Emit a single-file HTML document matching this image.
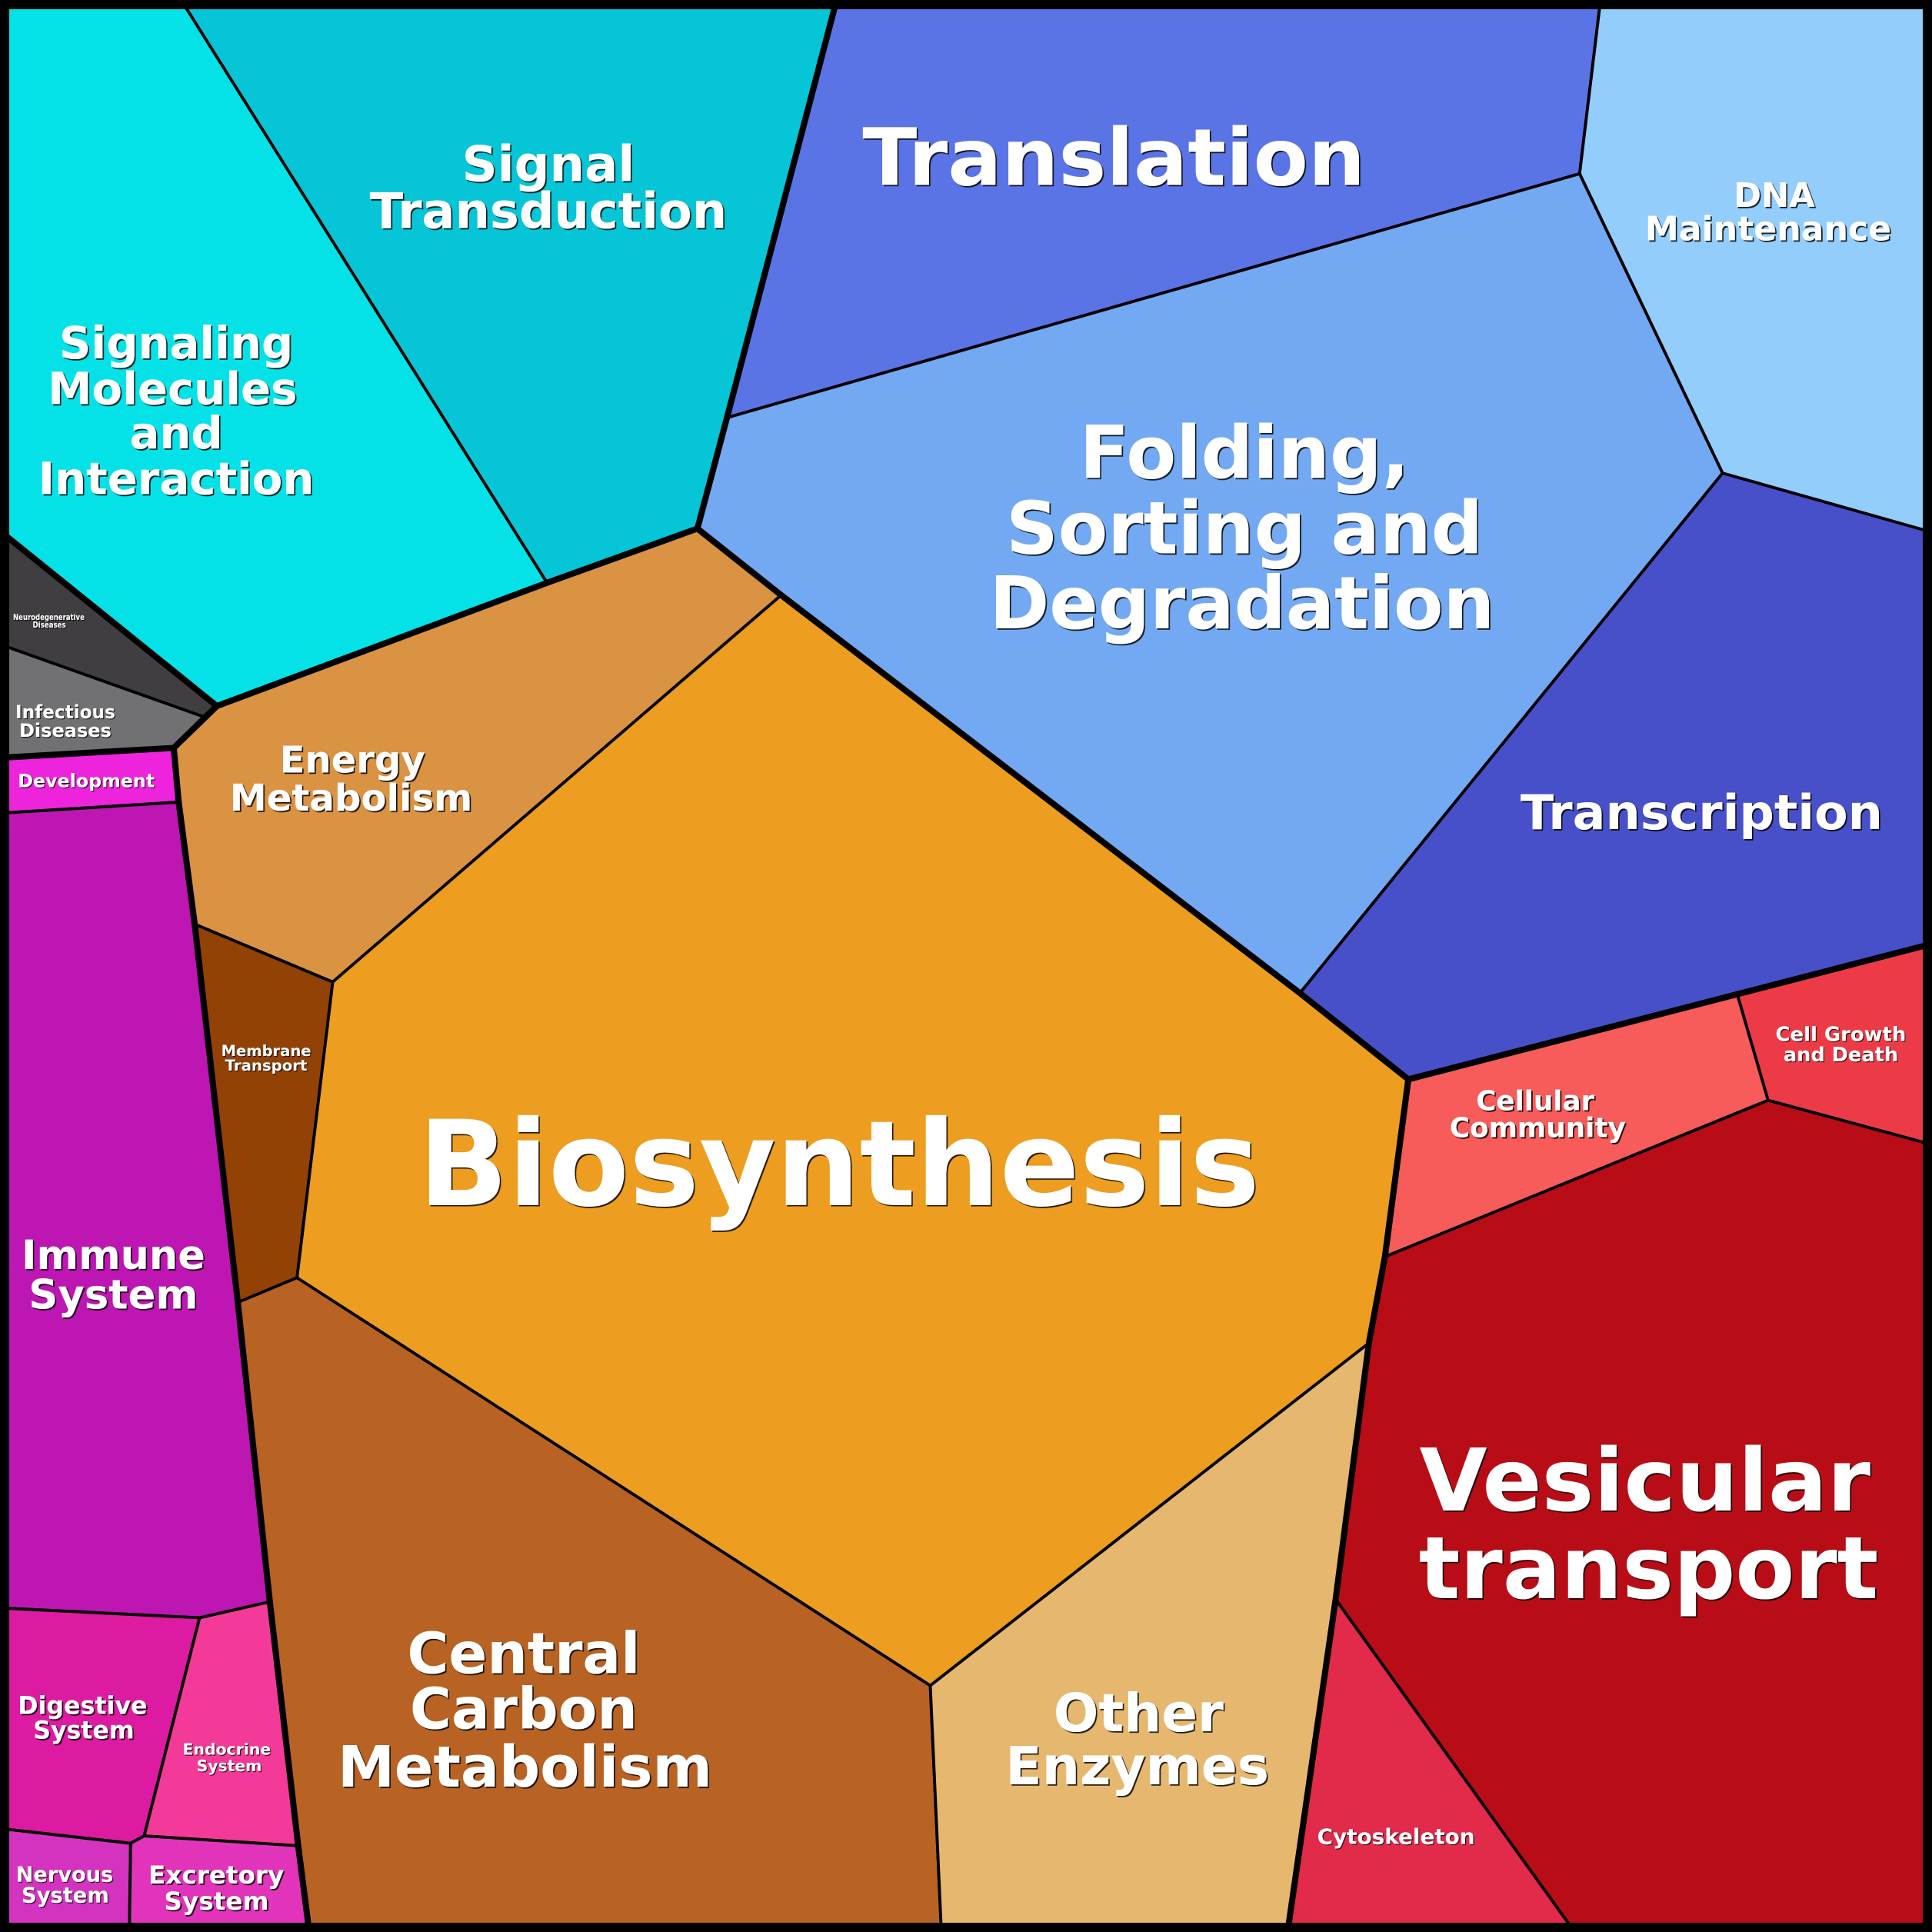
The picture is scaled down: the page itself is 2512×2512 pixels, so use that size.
<!DOCTYPE html>
<html>
<head>
<meta charset="utf-8">
<style>
html,body{margin:0;padding:0;background:#000;}
svg{display:block;}
text{font-family:"DejaVu Sans","Liberation Sans",sans-serif;font-weight:bold;fill:#fff;text-anchor:middle;}
</style>
</head>
<body>
<svg xmlns="http://www.w3.org/2000/svg" width="2512" height="2512" viewBox="0 0 1568 1568">
<defs>
<filter id="sh" x="-10%" y="-10%" width="120%" height="130%">
<feDropShadow dx="1.1" dy="1.1" stdDeviation="0.2" flood-color="#000" flood-opacity="0.85"/>
</filter>
<filter id="shs" x="-10%" y="-10%" width="120%" height="130%">
<feDropShadow dx="0.7" dy="0.7" stdDeviation="0.15" flood-color="#000" flood-opacity="0.85"/>
</filter>
</defs>

<g stroke="#000" stroke-width="2.4" stroke-linejoin="round">
<!-- Environmental -->
<polygon fill="#04E2E8" points="0,0 147,0 444,473 176,573 0,431"/>
<polygon fill="#05C5D6" points="147,0 679,0 590,339 566,429 444,473"/>
<!-- Genetic -->
<polygon fill="#5A74E6" points="679,0 1299,0 1282,141 590,339"/>
<polygon fill="#93CDFB" points="1299,0 1568,0 1568,432 1398,384 1282,141"/>
<polygon fill="#72A9F2" points="590,339 1282,141 1398,384 1055,806 634,483 566,429"/>
<polygon fill="#4750C8" points="1398,384 1568,432 1568,766 1143,876 1055,806"/>
<!-- Metabolism -->
<polygon fill="#DA9243" points="566,429 634,483 270,797 158,750 145,651 141,607 176,573 444,473"/>
<polygon fill="#ED9D1F" points="634,483 1055,806 1143,876 1124,1020 1111,1090 755,1368 241,1037 270,797"/>
<polygon fill="#924205" points="158,750 270,797 241,1037 193,1057"/>
<polygon fill="#B86223" points="193,1057 241,1037 755,1368 764,1568 251,1568 242,1498 219,1300"/>
<polygon fill="#E6B76F" points="755,1368 1111,1090 1084,1298 1045,1568 764,1568"/>
<!-- Human diseases -->
<polygon fill="#403E40" points="0,431 176,573 166,582 0,523"/>
<polygon fill="#717173" points="0,523 166,582 141,607 0,615"/>
<!-- Organismal -->
<polygon fill="#EE24DC" points="0,615 141,607 145,651 0,660"/>
<polygon fill="#BD16B2" points="0,660 145,651 158,750 193,1057 219,1300 162,1313 0,1305"/>
<polygon fill="#DD1AA2" points="0,1305 162,1313 117,1490 106,1496 0,1484"/>
<polygon fill="#F43A98" points="162,1313 219,1300 242,1498 117,1490"/>
<polygon fill="#D333BE" points="0,1484 106,1496 105,1568 0,1568"/>
<polygon fill="#E134BB" points="106,1496 117,1490 242,1498 251,1568 105,1568"/>
<!-- Cellular processes -->
<polygon fill="#F75B5A" points="1143,876 1410,807 1435,893 1124,1020"/>
<polygon fill="#EC3B47" points="1410,807 1568,766 1568,929 1435,893"/>
<polygon fill="#B80D17" points="1124,1020 1435,893 1568,929 1568,1568 1278,1568 1084,1298 1111,1090"/>
<polygon fill="#E22A4A" points="1084,1298 1278,1568 1045,1568"/>
</g>

<!-- thick group boundaries -->
<g stroke="#000" stroke-width="5" fill="none" stroke-linejoin="round" stroke-linecap="round">
<polyline points="679,0 590,339 566,429"/>
<polyline points="566,429 444,473 176,573 0,431"/>
<polyline points="176,573 141,607 0,615"/>
<polyline points="141,607 145,651 158,750 193,1057 219,1300 242,1498 251,1568"/>
<polyline points="566,429 634,483 1055,806 1143,876 1568,766"/>
<polyline points="1143,876 1124,1020 1111,1090 1084,1298 1045,1568"/>
</g>

<!-- frame -->
<rect x="3.75" y="3.75" width="1560.5" height="1560.5" fill="none" stroke="#000" stroke-width="7.5"/>

<!-- labels -->
<g filter="url(#sh)">
<text x="445" y="147" font-size="40">Signal</text>
<text x="445" y="185" font-size="40" textLength="290" lengthAdjust="spacingAndGlyphs">Transduction</text>

<text x="143" y="291" font-size="36">Signaling</text>
<text x="140" y="328" font-size="36">Molecules</text>
<text x="143" y="364" font-size="36">and</text>
<text x="143" y="401" font-size="36" textLength="224" lengthAdjust="spacingAndGlyphs">Interaction</text>

<text x="904" y="150" font-size="64" textLength="408" lengthAdjust="spacingAndGlyphs">Translation</text>

<text x="1440" y="168" font-size="27">DNA</text>
<text x="1435" y="195" font-size="27" textLength="200" lengthAdjust="spacingAndGlyphs">Maintenance</text>

<text x="1010" y="388" font-size="59">Folding,</text>
<text x="1010" y="449" font-size="59" textLength="387" lengthAdjust="spacingAndGlyphs">Sorting and</text>
<text x="1008" y="510" font-size="59" textLength="410" lengthAdjust="spacingAndGlyphs">Degradation</text>

<text x="1381" y="673" font-size="39" textLength="294" lengthAdjust="spacingAndGlyphs">Transcription</text>

<text x="286" y="627" font-size="30">Energy</text>
<text x="285" y="658" font-size="30" textLength="197" lengthAdjust="spacingAndGlyphs">Metabolism</text>

<text x="681" y="978" font-size="96" textLength="683" lengthAdjust="spacingAndGlyphs">Biosynthesis</text>

<text x="92" y="1030" font-size="33" textLength="149" lengthAdjust="spacingAndGlyphs">Immune</text>
<text x="92" y="1062" font-size="33">System</text>

<text x="425" y="1358" font-size="46">Central</text>
<text x="425" y="1403" font-size="46">Carbon</text>
<text x="426" y="1450" font-size="46" textLength="304" lengthAdjust="spacingAndGlyphs">Metabolism</text>

<text x="924" y="1405" font-size="43">Other</text>
<text x="923" y="1448" font-size="43" textLength="214" lengthAdjust="spacingAndGlyphs">Enzymes</text>

<text x="1335" y="1226" font-size="70" textLength="366" lengthAdjust="spacingAndGlyphs">Vesicular</text>
<text x="1338" y="1297" font-size="70" textLength="373" lengthAdjust="spacingAndGlyphs">transport</text>

<text x="1246" y="901" font-size="22" textLength="96" lengthAdjust="spacingAndGlyphs">Cellular</text>
<text x="1248" y="923" font-size="22" textLength="143" lengthAdjust="spacingAndGlyphs">Community</text>

<text x="67" y="1391" font-size="20" textLength="105" lengthAdjust="spacingAndGlyphs">Digestive</text>
<text x="68" y="1411" font-size="20" textLength="82" lengthAdjust="spacingAndGlyphs">System</text>

<text x="175.5" y="1528.6" font-size="20" textLength="110" lengthAdjust="spacingAndGlyphs">Excretory</text>
<text x="175.7" y="1550" font-size="20" textLength="85" lengthAdjust="spacingAndGlyphs">System</text>
</g>

<g filter="url(#shs)">
<text x="1494" y="845" font-size="16" textLength="106" lengthAdjust="spacingAndGlyphs">Cell Growth</text>
<text x="1494" y="861.5" font-size="16">and Death</text>

<text x="1133" y="1496.5" font-size="17" textLength="128" lengthAdjust="spacingAndGlyphs">Cytoskeleton</text>

<text x="216" y="857" font-size="12.3" textLength="73" lengthAdjust="spacingAndGlyphs">Membrane</text>
<text x="216" y="869" font-size="12.3">Transport</text>

<text x="70" y="639" font-size="15" textLength="111" lengthAdjust="spacingAndGlyphs">Development</text>

<text x="53" y="583" font-size="15" textLength="81" lengthAdjust="spacingAndGlyphs">Infectious</text>
<text x="53" y="598" font-size="15">Diseases</text>

<text x="39.6" y="503" font-size="6.6" textLength="58" lengthAdjust="spacingAndGlyphs">Neurodegenerative</text>
<text x="40" y="509.5" font-size="6.6" textLength="27" lengthAdjust="spacingAndGlyphs">Diseases</text>

<text x="184" y="1424" font-size="12.7" textLength="71.5" lengthAdjust="spacingAndGlyphs">Endocrine</text>
<text x="186" y="1437.6" font-size="12.7">System</text>

<text x="52.4" y="1527" font-size="17" textLength="79" lengthAdjust="spacingAndGlyphs">Nervous</text>
<text x="53" y="1544" font-size="17" textLength="71" lengthAdjust="spacingAndGlyphs">System</text>
</g>
</svg>
</body>
</html>
